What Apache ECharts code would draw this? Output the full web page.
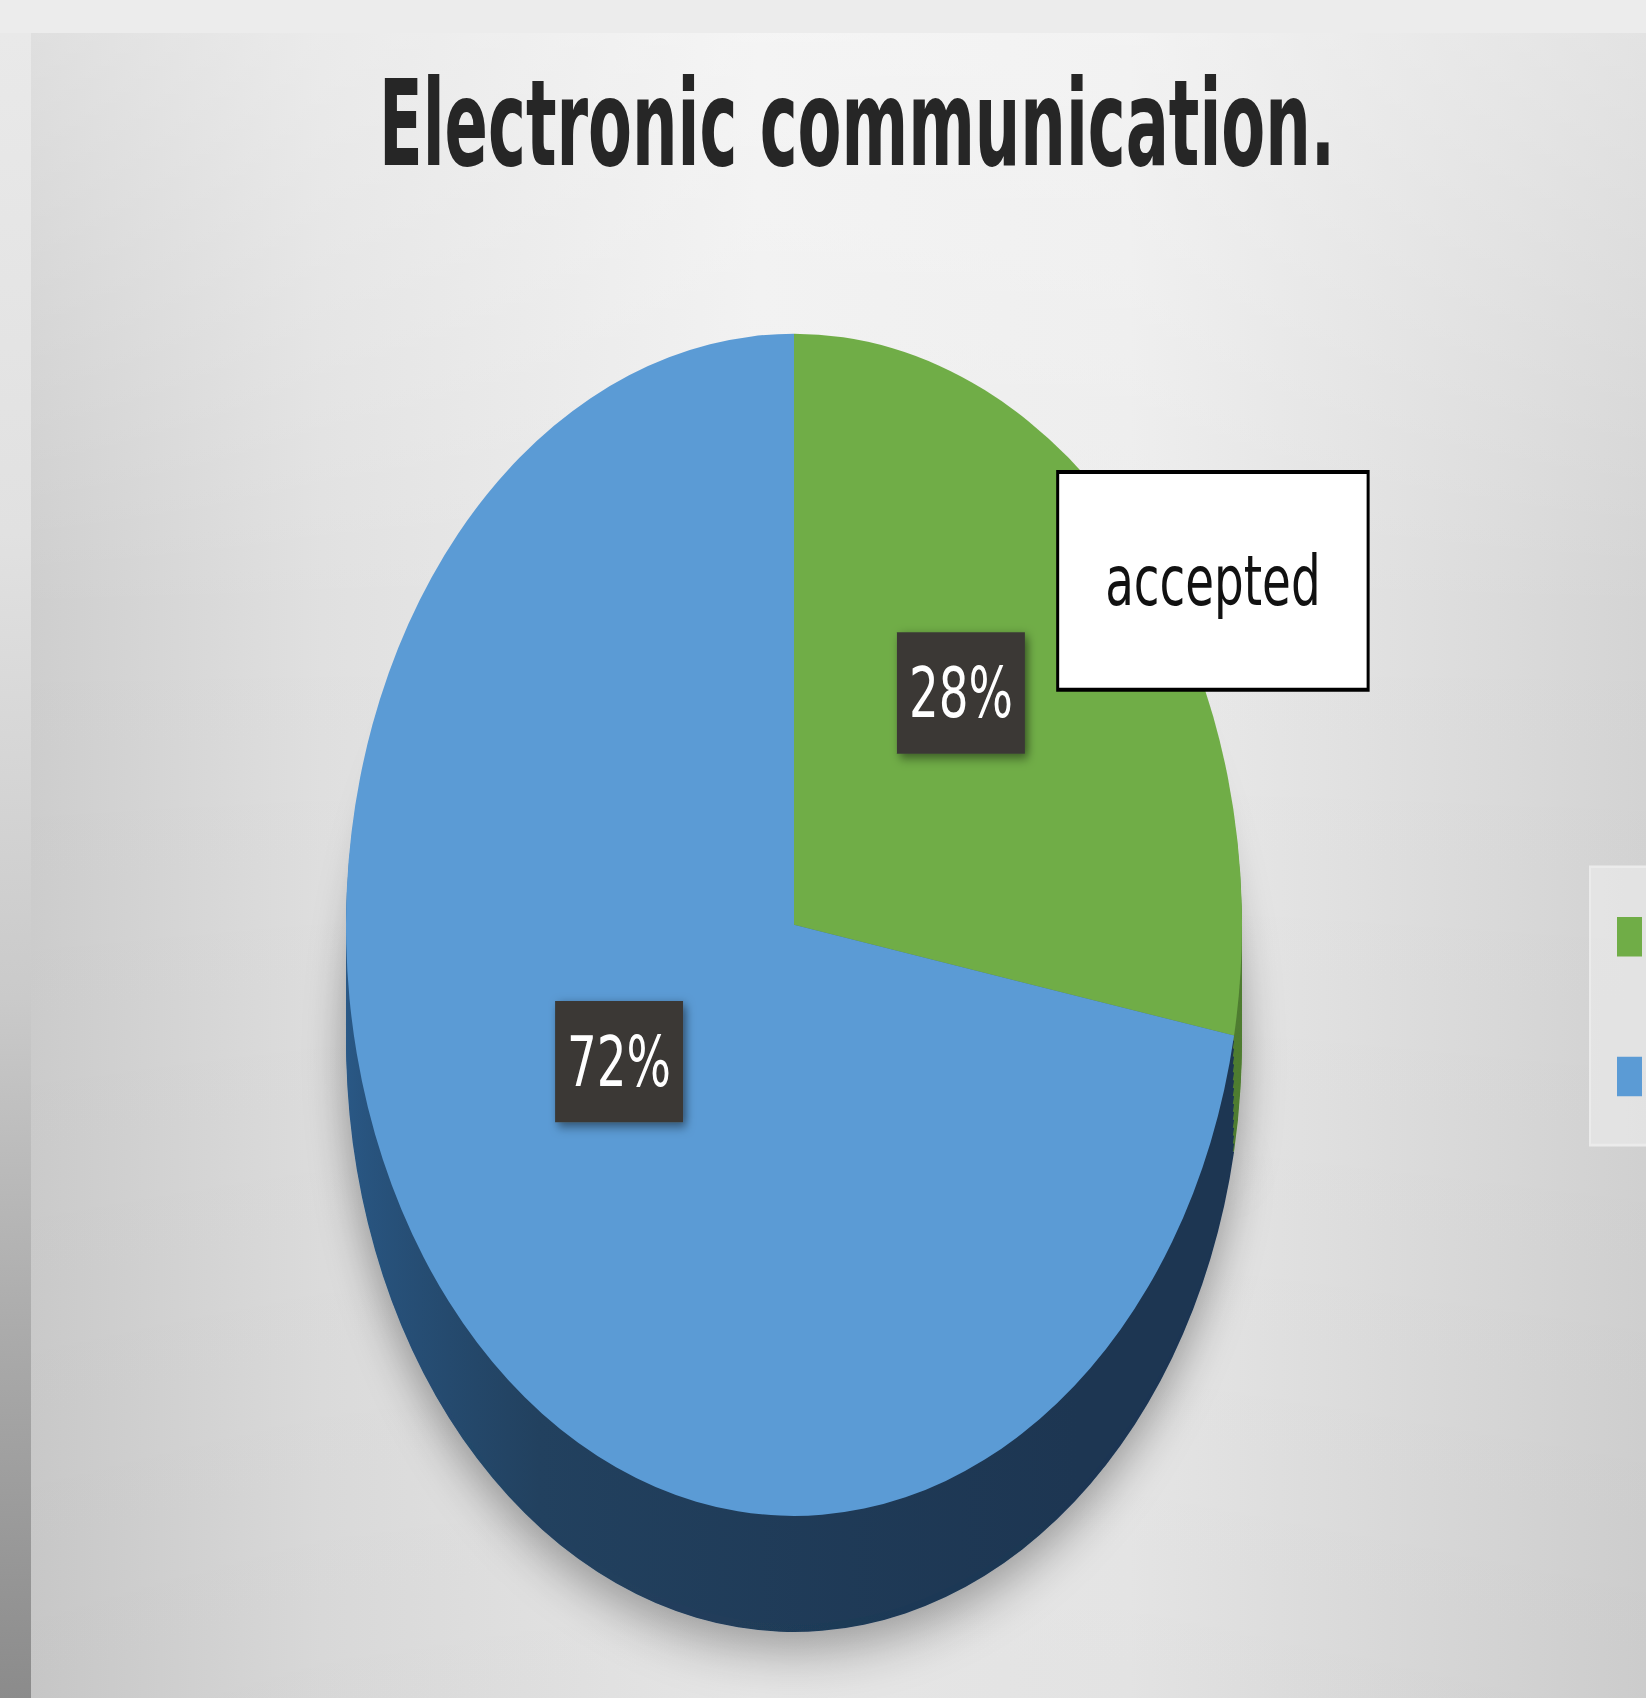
<!DOCTYPE html>
<html>
<head>
<meta charset="utf-8">
<title>Electronic communication.</title>
<script src="https://cdn.jsdelivr.net/npm/echarts@6/dist/echarts.min.js"></script>
<style>
  html, body { margin: 0; padding: 0; width: 1646px; height: 1698px; overflow: hidden; background: #ececec; }
  #strip { position: absolute; left: 0; top: 33px; width: 31px; height: 1665px;
    background: linear-gradient(180deg, #e9e9e9 0%, #e1e1e1 30%, #cacaca 58%, #a8a8a8 80%, #8b8b8b 100%); }
  #panel { position: absolute; left: 31px; top: 33px; width: 1615px; height: 1665px;
    background:
      linear-gradient(180deg, rgba(255,255,255,0.35) 0%, rgba(255,255,255,0) 35%, rgba(0,0,0,0.04) 100%),
      linear-gradient(90deg, #cecece 0%, #e0e0e0 18%, #efefef 45%, #ececec 68%, #d4d4d4 100%); }
  /* the reference is a vertically stretched picture: draw at 1646x1287 and stretch */
  #chart { position: absolute; left: 0; top: 0; width: 1646px; height: 1287px;
    transform: scaleY(1.3193); transform-origin: 0 0; }
</style>
</head>
<body>
<div id="strip"></div>
<div id="panel"></div>
<div id="chart"></div>
<script>
// data
const categories = ['accepted', 'not accepted'];
const values = [28, 72];
const topColors = ['#70ad47', '#5b9bd5'];
const calloutNames = ['accepted'];
const titleText = 'Electronic communication.';

const narrow = '"Liberation Sans Narrow", "DejaVu Sans Condensed", "Open Sans", sans-serif';
const pieCenter = [794, 701];
const pieRadius = 448;
const depth = 88;

// side colours (darker shade of each slice)
const sideColors = [
  '#4f7d31',
  { type: 'linear', x: 0, y: 0, x2: 1, y2: 0.3, colorStops: [
    { offset: 0, color: '#2d6398' },
    { offset: 0.45, color: '#22415f' },
    { offset: 1, color: '#1d3652' }
  ] }
];

const myChart = echarts.init(document.getElementById('chart'), null, { renderer: 'svg' });

const series = [];

// extruded side: stacked darker pies shifted downward
for (let d = depth; d > 0; d -= 6) {
  const deepest = d === depth;
  series.push({
    type: 'pie',
    silent: true,
    center: [pieCenter[0], pieCenter[1] + d],
    radius: [0, pieRadius],
    startAngle: 90,
    label: { show: false },
    labelLine: { show: false },
    emphasis: { disabled: true },
    itemStyle: deepest ? {
      shadowBlur: 40, shadowColor: 'rgba(0,0,0,0.35)', shadowOffsetY: 12
    } : {},
    data: categories.map((c, i) => ({
      name: c, value: values[i], itemStyle: { color: sideColors[i] }
    }))
  });
}

// top face with percentage labels
series.push({
  type: 'pie',
  silent: true,
  center: pieCenter,
  radius: [0, pieRadius],
  startAngle: 90,
  emphasis: { disabled: true },
  label: {
    show: true,
    position: 'inside',
    formatter: '{d}%',
    color: '#ffffff',
    fontFamily: narrow,
    fontSize: 52,
    lineHeight: 52,
    backgroundColor: '#3a3935',
    padding: [20, 12],
    shadowBlur: 8,
    shadowColor: 'rgba(0,0,0,0.5)',
    shadowOffsetX: 3,
    shadowOffsetY: 3
  },
  labelLine: { show: false },
  labelLayout: function (p) {
    return p.dataIndex === 0 ? { dx: -8, dy: -31 } : { dx: 0, dy: -41 };
  },
  data: categories.map((c, i) => ({
    name: c, value: values[i], itemStyle: { color: topColors[i] }
  }))
});

// callout for the accepted slice
series.push({
  type: 'pie',
  silent: true,
  center: pieCenter,
  radius: [0, pieRadius],
  startAngle: 90,
  emphasis: { disabled: true },
  itemStyle: { color: 'rgba(0,0,0,0)' },
  label: {
    position: 'inside',
    formatter: '{b}',
    color: '#111111',
    fontFamily: narrow,
    fontSize: 52,
    lineHeight: 52,
    backgroundColor: '#ffffff',
    borderColor: '#000000',
    borderWidth: 3,
    padding: [55, 46, 55, 46]
  },
  labelLine: { show: false },
  labelLayout: { dx: 244, dy: -116 },
  data: categories.map((c, i) => ({
    name: c, value: values[i], label: { show: calloutNames.indexOf(c) >= 0 }
  }))
});

myChart.setOption({
  animation: false,
  backgroundColor: 'transparent',
  // title drawn as a horizontally squeezed text to match the tall lettering
  graphic: [{
    type: 'text',
    x: 379,
    y: 94,
    scaleX: 0.79,
    silent: true,
    style: {
      text: titleText,
      font: 'bold 90px ' + narrow,
      fill: '#262626',
      align: 'left',
      verticalAlign: 'middle'
    }
  }],
  legend: {
    orient: 'vertical',
    left: 1590,
    top: 657,
    padding: [38, 10, 37, 27],
    itemWidth: 25,
    itemHeight: 30,
    itemGap: 76,
    icon: 'rect',
    backgroundColor: 'rgba(238,238,238,0.6)',
    borderColor: '#ebebeb',
    borderWidth: 2,
    textStyle: { fontSize: 30, color: '#595959', fontFamily: narrow },
    data: categories.map((c, i) => ({ name: c, itemStyle: { color: topColors[i] } }))
  },
  series: series
});
</script>
</body>
</html>
